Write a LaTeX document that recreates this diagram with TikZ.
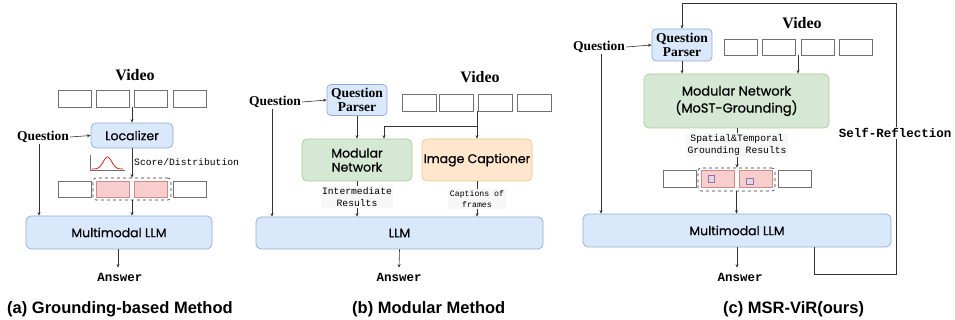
\documentclass[tikz,border=0pt]{standalone}
\usepackage{fontspec}
\usetikzlibrary{arrows.meta,calc}
\newfontfamily\serifbold{Liberation Serif}
\newfontfamily\boxfont[FakeBold=0.7]{Poppins}
\newfontfamily\monofont{Liberation Mono}
\newfontfamily\capfont{Liberation Sans}

\definecolor{bluefill}{HTML}{DAE8FC}
\definecolor{blueline}{HTML}{8FAAD6}
\definecolor{greenfill}{HTML}{D5E8D4}
\definecolor{greenline}{HTML}{A9CC98}
\definecolor{orangefill}{HTML}{FFE6CC}
\definecolor{orangeline}{HTML}{F0C58A}
\definecolor{pinkfill}{HTML}{F8CECC}
\definecolor{pinkline}{HTML}{D08A86}
\definecolor{purplefill}{HTML}{E1D5E7}
\definecolor{purpleline}{HTML}{9673A6}
\definecolor{framegray}{HTML}{707070}
\definecolor{linegray}{HTML}{333333}
\definecolor{labelbg}{HTML}{F7F7F7}

\tikzset{
  frame/.style={draw=framegray, line width=0.7pt, fill=white, minimum width=33pt, minimum height=16.5pt, inner sep=0pt},
  pinkframe/.style={frame, draw=pinkline, fill=pinkfill},
  patch/.style={draw=purpleline, fill=purplefill, line width=0.5pt, minimum size=6.5pt, inner sep=0pt},
  module/.style={rounded corners=5pt, line width=0.7pt, inner sep=0pt, align=center, font=\boxfont\fontsize{12.5}{14}\selectfont},
  bluebox/.style={module, draw=blueline, fill=bluefill},
  greenbox/.style={module, draw=greenline, fill=greenfill},
  orangebox/.style={module, draw=orangeline, fill=orangefill},
  parser/.style={rounded corners=4pt, line width=0.7pt, draw=blueline, fill=bluefill, inner sep=0pt, align=center,
    minimum width=60pt, minimum height=31pt, font=\serifbold\bfseries\fontsize{13.5}{14}\selectfont},
  title/.style={font=\serifbold\bfseries\fontsize{16}{18}\selectfont, inner sep=1pt},
  quest/.style={font=\serifbold\bfseries\fontsize{13.5}{15}\selectfont, inner sep=1pt},
  answer/.style={font=\monofont\bfseries\fontsize{12.5}{14}\selectfont, inner sep=1pt},
  midlabel/.style={font=\monofont\fontsize{9.7}{12}\selectfont, fill=labelbg, align=center, inner sep=1.5pt},
  smalllabel/.style={font=\monofont\fontsize{8.2}{11}\selectfont, fill=labelbg, align=center, inner sep=1.5pt},
  group/.style={draw=linegray, dashed, line width=0.6pt, rounded corners=3pt},
  arr/.style={draw=linegray, line width=0.6pt, -{Stealth[length=3.5pt,width=3pt]}},
  caption/.style={font=\capfont\bfseries\fontsize{16.5}{18}\selectfont, anchor=base west, inner sep=0pt}
}

\begin{document}
\begin{tikzpicture}[x=1pt, y=-1pt]
\useasboundingbox (0,0) rectangle (955,320);

% ---------------- (a) grounding-based method ----------------
\node[title] (va) at (135,75) {Video};
\foreach \i/\x in {1/74.5, 2/112.5, 3/150.5, 4/189.5}
  \node[frame] (fa\i) at (\x,99) {};
\coordinate (avin) at (132,107.3);
\node[bluebox, minimum width=82pt, minimum height=25pt] (loc) at (132,135.5) {Localizer};
\draw[arr] (avin) -- (loc.north);
\node[quest] (qa) at (43,137) {Question};
\draw[arr] (qa.east) -- (loc.west);

% score curve icon
\draw[framegray, line width=0.6pt] (90,155) -- (90,170) -- (125,170);
\draw[red, line width=0.7pt, domain=92:123, samples=40, smooth]
  plot (\x, {169 - 12*exp(-((\x-107.5)/6)^2)});

\foreach \i/\x in {1/74.5, 4/189.5}
  \node[frame] (ga\i) at (\x,189.5) {};
\foreach \i/\x in {2/112.5, 3/150.5}
  \node[pinkframe] (ga\i) at (\x,189.5) {};
\node[group, minimum width=78pt, minimum height=22pt, inner sep=0pt] (grpa) at (132,189) {};
\draw[arr] (loc.south) -- (grpa.north);
\node[font=\monofont\fontsize{9.7}{12}\selectfont, anchor=west, inner sep=0pt] (scorelab) at (134,162) {Score/Distribution};

\node[bluebox, minimum width=186pt, minimum height=33pt] (mllma) at (119,232.5) {Multimodal LLM};
\draw[arr] (grpa.south) -- (grpa.south |- mllma.north);
\draw[arr] ([xshift=-4pt]qa.south) -- ([xshift=-4pt]qa.south |- mllma.north);
\node[answer] (ansa) at (120,277) {Answer};
\draw[arr] ([xshift=-1pt]mllma.south) -- ([xshift=-2pt,yshift=4pt]ansa.north);

% ---------------- (b) modular method ----------------
\node[title] (vb) at (480,77) {Video};
\foreach \i/\x in {1/419, 2/456.5, 3/495.5, 4/534}
  \node[frame, minimum width=34pt, minimum height=17pt] (fb\i) at (\x,102.5) {};
\node[parser] (qpb) at (357,100) {Question\\Parser};
\node[quest] (qb) at (275,102) {Question};
\draw[arr] (qb.east) -- (qpb.west);

\node[greenbox, minimum width=110pt, minimum height=42pt] (mnb) at (357,160) {Modular\\Network};
\node[orangebox, minimum width=110pt, minimum height=42pt] (icb) at (477,160) {Image Captioner};
\coordinate (bvin) at (477,111);
\coordinate (bsplit) at (477,126);
\draw[arr] (bvin) -- (icb.north -| bvin);
\draw[arr] (bsplit) -| ([xshift=27pt]mnb.north);
\draw[arr] (qpb.south) -- (mnb.north);

\node[bluebox, minimum width=287pt, minimum height=32pt] (llmb) at (399.5,233) {LLM};
\draw[arr] (mnb.south) -- (mnb.south |- llmb.north);
\draw[arr] (icb.south) -- (icb.south |- llmb.north);
\node[midlabel] (interlab) at (357,197) {Intermediate\\Results};
\node[smalllabel] (caplab) at (477,199) {Captions of\\frames};
\draw[arr] ([xshift=-3pt]qb.south) -- ([xshift=-3pt]qb.south |- llmb.north);
\node[answer] (ansb) at (399,277) {Answer};
\draw[arr] (llmb.south) -- ([yshift=4pt]ansb.north);

% ---------------- (c) MSR-ViR ----------------
\node[title] (vc) at (802,23) {Video};
\foreach \i/\x in {1/740.5, 2/779, 3/817.5, 4/855.5}
  \node[frame, minimum height=16pt] (fc\i) at (\x,47) {};
\node[parser, minimum height=32pt] (qpc) at (682,45) {Question\\Parser};
\node[quest] (qc) at (599,47) {Question};
\draw[arr] (qc.east) -- (qpc.west);

\node[greenbox, minimum width=185pt, minimum height=54pt, font=\boxfont\fontsize{13}{17}\selectfont] (mnc) at (736.5,101)
  {Modular Network\\(MoST-Grounding)};
\coordinate (cvin) at (798,55);
\draw[arr] (cvin) -- (cvin |- mnc.north);
\draw[arr] (qpc.south) -- (qpc.south |- mnc.north);

\foreach \i/\x in {1/679.5, 4/794.5}
  \node[frame, minimum height=17pt] (gc\i) at (\x,178.5) {};
\foreach \i/\x in {2/717.5, 3/755.5}
  \node[pinkframe, minimum height=17pt] (gc\i) at (\x,178.5) {};
\node[patch] (pc1) at (711,179) {};
\node[patch] (pc2) at (749.5,181.5) {};
\node[group, minimum width=77pt, minimum height=23pt, inner sep=0pt] (grpc) at (736.5,179.5) {};
\draw[arr] ([xshift=0.5pt]mnc.south) -- ([xshift=0.5pt]mnc.south |- grpc.north);
\node[midlabel] (stlab) at (737,145) {Spatial\&Temporal\\Grounding Results};

\node[bluebox, minimum width=308pt, minimum height=33pt] (mllmc) at (737,230.5) {Multimodal LLM};
\draw[arr] (grpc.south) -- (grpc.south |- mllmc.north);
\draw[arr] ([xshift=2pt]qc.south) -- ([xshift=2pt]qc.south |- mllmc.north);
\node[answer] (ansc) at (740,277) {Answer};
\draw[arr] (mllmc.south) -- ([yshift=4pt]ansc.north -| mllmc.south);

% self-reflection loop back to the parser
\coordinate (loopa) at (814,274);
\coordinate (loopb) at (896,3.5);
\draw[arr] (mllmc.south -| loopa) -- (loopa) -| (loopb) -| (qpc.north);
\node[answer, fill=white, inner sep=1.5pt] (selfref) at (895,133) {Self-Reflection};

% ---------------- captions ----------------
\node[caption] (capa) at (7,313) {(a) Grounding-based Method};
\node[caption] (capb) at (352,313) {(b) Modular Method};
\node[caption] (capc) at (723,313) {(c) MSR-ViR(ours)};
\end{tikzpicture}
\end{document}
